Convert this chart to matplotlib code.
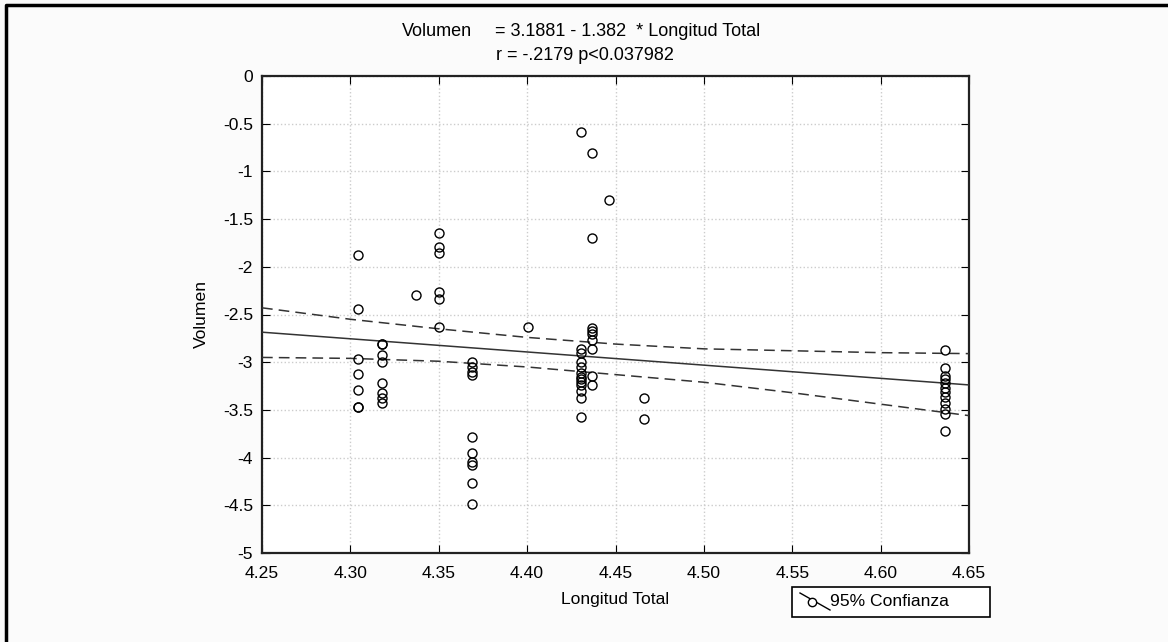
import matplotlib.pyplot as plt
from matplotlib.lines import Line2D
from matplotlib.patches import Rectangle
import numpy as np

plt.rcParams['font.family'] = ['Liberation Sans', 'DejaVu Sans']

# points (Longitud Total, Volumen)
lon = [4.3045]*7 + [4.3177]*8 + [4.3371] + [4.3500]*6 + [4.3688]*10 + [4.4005] \
    + [4.4305]*13 + [4.4369]*9 + [4.4461] + [4.4660]*2 + [4.6364]*12
vol = [-1.873, -2.442, -2.966, -3.127, -3.291, -3.467, -3.467,
       -2.806, -2.806, -2.925, -2.995, -3.215, -3.320, -3.379, -3.431,
       -2.296,
       -1.642, -1.796, -1.859, -2.264, -2.338, -2.631,
       -2.995, -3.047, -3.099, -3.134, -3.788, -3.948, -4.043, -4.078, -4.270, -4.486,
       -2.631,
       -0.587, -2.865, -2.900, -2.995, -3.047, -3.117, -3.152, -3.180, -3.204, -3.239, -3.299, -3.372, -3.578,
       -0.804, -1.695, -2.645, -2.670, -2.704, -2.767, -2.865, -3.141, -3.243,
       -1.300,
       -3.372, -3.595,
       -2.872, -3.058, -3.145, -3.215, -3.274, -3.309, -3.362, -3.424, -3.494, -3.543, -3.721, -3.180]

# fit from the title
intercept = 3.1881
slope = -1.382

# 95% confidence band
band_x = [4.25, 4.30, 4.35, 4.40, 4.45, 4.50, 4.55, 4.60, 4.65]
band_hi = [-2.43, -2.55, -2.65, -2.74, -2.81, -2.86, -2.88, -2.90, -2.91]
band_lo = [-2.95, -2.96, -2.99, -3.05, -3.13, -3.21, -3.32, -3.44, -3.56]

xticks = [4.25, 4.30, 4.35, 4.40, 4.45, 4.50, 4.55, 4.60, 4.65]
yticks = [0, -0.5, -1, -1.5, -2, -2.5, -3, -3.5, -4, -4.5, -5]

W, H = 1168, 642
fs = 12.6
fig = plt.figure(figsize=(W/100, H/100), dpi=100, facecolor='#fbfbfb')
ax = fig.add_axes([262/W, 1-553/H, (969-262)/W, (553-76)/H])
ax.set_facecolor('white')

xl = np.array([4.25, 4.65])
ax.plot(xl, intercept + slope*xl, color='#333333', lw=1.1, zorder=3)
ax.plot(band_x, band_hi, color='#333333', lw=1.1, ls=(0, (7, 4)), zorder=3)
ax.plot(band_x, band_lo, color='#333333', lw=1.1, ls=(0, (7, 4)), zorder=3)
ax.plot(lon, vol, 'o', mfc='none', mec='black', ms=6.5, mew=1.0, zorder=4)

ax.set_xlim(4.25, 4.65)
ax.set_ylim(-5, 0)
ax.set_xticks(xticks)
ax.set_xticklabels(['%.2f' % v for v in xticks])
ax.set_yticks(yticks)
ax.set_yticklabels(['%g' % v for v in yticks])
ax.tick_params(direction='in', top=True, right=True, length=6, labelsize=fs)
ax.tick_params(axis='x', pad=9.5)
ax.tick_params(axis='y', pad=6.5)
ax.grid(True, color='#cccccc', ls=':', lw=1)
for s in ax.spines.values():
    s.set_linewidth(1.6)
    s.set_color('#222222')

ax.set_xlabel('Longitud Total', fontsize=fs, labelpad=8)
ax.set_ylabel('Volumen', fontsize=fs, labelpad=10)

fig.text(402/W, 1-31/H, 'Volumen', ha='left', va='center', fontsize=13)
fig.text(495/W, 1-31/H, '= 3.1881 - 1.382  * Longitud Total', ha='left', va='center', fontsize=13)
fig.text(585/W, 1-55/H, 'r = -.2179 p<0.037982', ha='center', va='center', fontsize=13)

# legend box drawn by hand
fig.add_artist(Rectangle((792/W, 1-617/H), 198/W, 30/H, transform=fig.transFigure,
                         fc='white', ec='black', lw=1.2))
fig.add_artist(Line2D([800/W, 830/W], [1-593/H, 1-610/H], transform=fig.transFigure,
                      color='black', lw=1))
fig.add_artist(Line2D([812/W], [1-601.5/H], transform=fig.transFigure, marker='o',
                      mfc='white', mec='black', ms=6, mew=1))
fig.text(830/W, 1-602/H, '95% Confianza', ha='left', va='center', fontsize=fs)

# outer frame
fig.add_artist(Line2D([6/W, 6/W, 1], [0, 1-5/H, 1-5/H], transform=fig.transFigure,
                      color='black', lw=2.5))

fig.savefig('out.png', dpi=100, facecolor=fig.get_facecolor())
